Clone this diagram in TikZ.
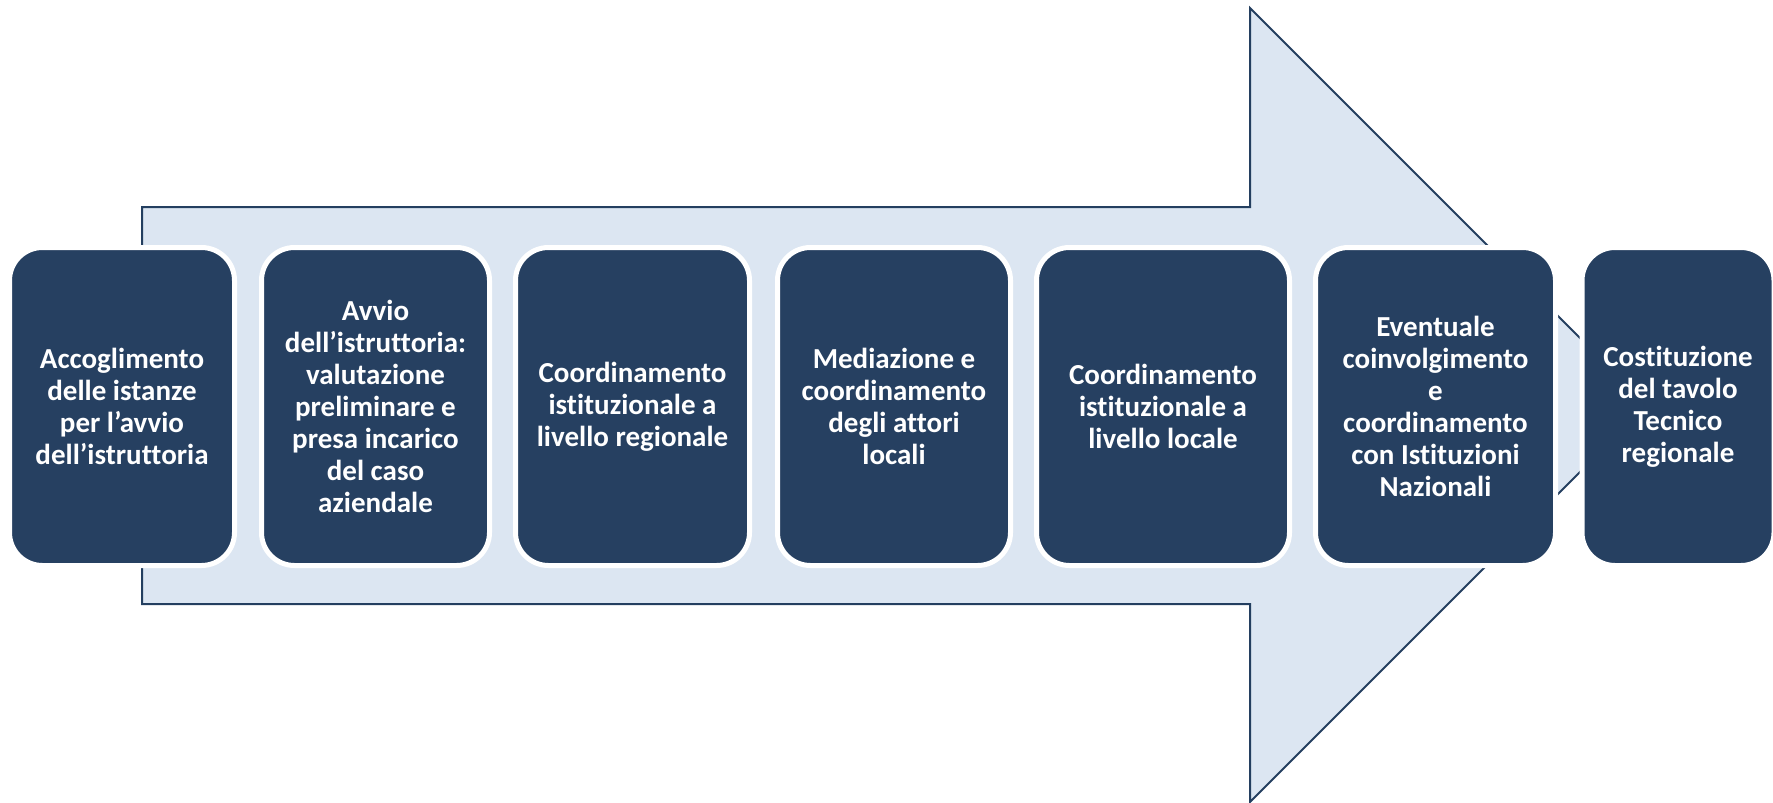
\documentclass[tikz,border=0pt]{standalone}
\usepackage{fontspec}
\setmainfont[Ligatures=NoCommon]{Carlito}
\definecolor{navy}{HTML}{264061}
\definecolor{arrowfill}{HTML}{DCE6F2}
\definecolor{arrowline}{HTML}{243F60}
\begin{document}
\begin{tikzpicture}[x=1pt,y=-1pt,
  stepbox/.style={rectangle, rounded corners=33pt, fill=navy, draw=white, line width=5pt,
    minimum height=318pt, inner sep=0pt, align=center, text=white,
    font=\fontsize{29}{32}\selectfont\bfseries},
  bigarrow/.style={fill=arrowfill, draw=arrowline, line width=2pt, line join=miter}]
\useasboundingbox (0,0) rectangle (1773,803);
\draw[bigarrow] (142,207) -- (1250,207) -- (1250,8) -- (1647,405) -- (1250,802) -- (1250,604) -- (142,604) -- cycle;
\node[stepbox, minimum width=225pt] (b1) at (122,406.5) {Accoglimento\\delle istanze\\per l’avvio\\dell’istruttoria};
\node[stepbox, minimum width=228pt] (b2) at (375.5,406.5) {Avvio\\dell’istruttoria:\\valutazione\\preliminare e\\presa incarico\\del caso\\aziendale};
\node[stepbox, minimum width=234pt] (b3) at (632.5,406.5) {Coordinamento\\istituzionale a\\livello regionale};
\node[stepbox, minimum width=233pt] (b4) at (894,406.5) {Mediazione e\\coordinamento\\degli attori\\locali};
\node[stepbox, minimum width=253pt] (b5) at (1163,406.5) {Coordinamento\\istituzionale a\\livello locale};
\node[stepbox, minimum width=240pt] (b6) at (1435.5,406.5) {Eventuale\\coinvolgimento\\e\\coordinamento\\con Istituzioni\\Nazionali};
\node[stepbox, minimum width=192pt] (b7) at (1678,406.5) {Costituzione\\del tavolo\\Tecnico\\regionale};
\end{tikzpicture}
\end{document}
